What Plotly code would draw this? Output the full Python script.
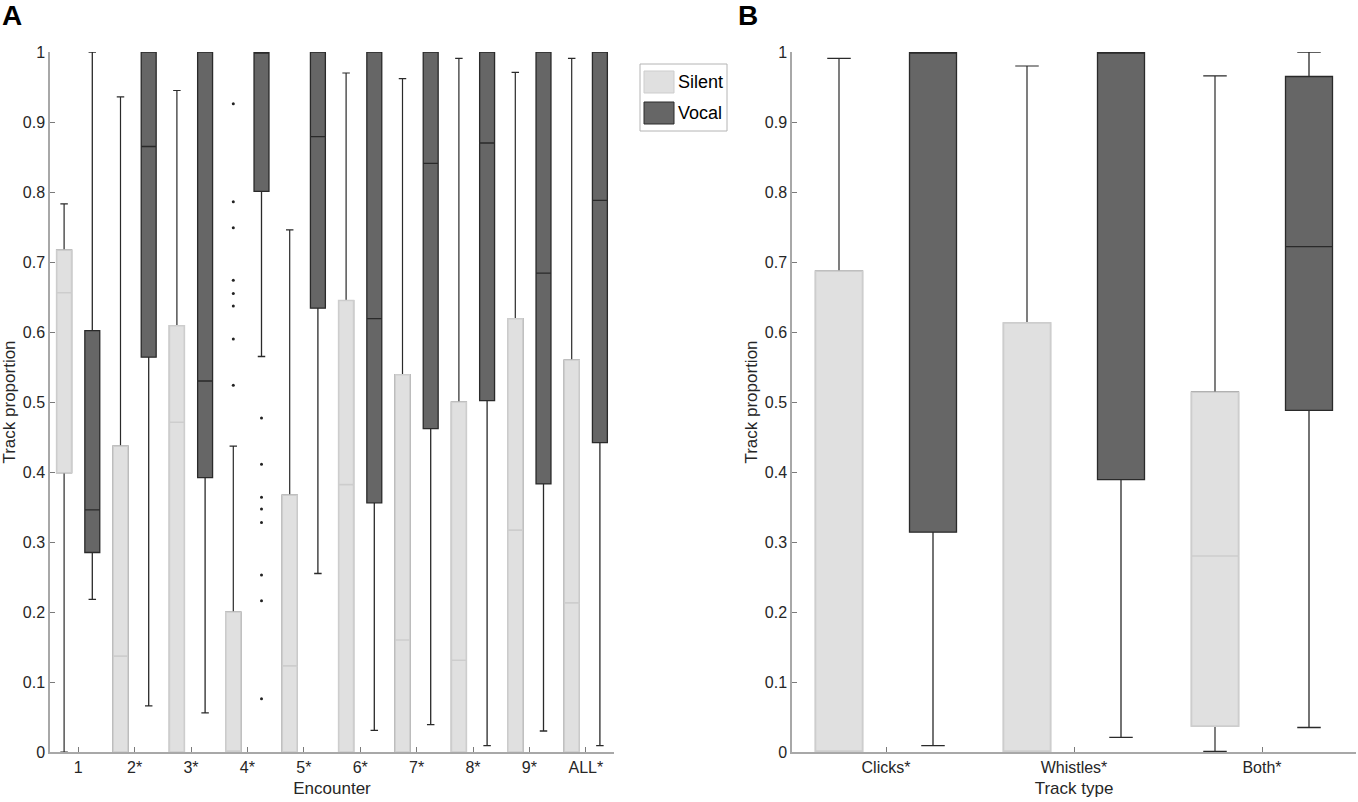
import numpy as np
import plotly.graph_objects as go

# ---------------- data ----------------
A_categories = ["1", "2*", "3*", "4*", "5*", "6*", "7*", "8*", "9*", "ALL*"]

A_silent_q1 = [0.399, 0, 0, 0, 0, 0, 0, 0, 0, 0]
A_silent_median = [0.656, 0.137, 0.471, 0.0, 0.123, 0.382, 0.160, 0.131, 0.317, 0.213]
A_silent_q3 = [0.717, 0.437, 0.609, 0.200, 0.367, 0.645, 0.539, 0.500, 0.619, 0.560]
A_silent_low = [0.0, 0, 0, 0, 0, 0, 0, 0, 0, 0]
A_silent_high = [0.783, 0.936, 0.945, 0.437, 0.746, 0.970, 0.962, 0.991, 0.971, 0.991]

A_vocal_q1 = [0.285, 0.564, 0.392, 0.801, 0.634, 0.356, 0.462, 0.502, 0.383, 0.442]
A_vocal_median = [0.346, 0.865, 0.530, 1.0, 0.879, 0.619, 0.841, 0.870, 0.684, 0.788]
A_vocal_q3 = [0.602, 1, 1, 1, 1, 1, 1, 1, 1, 1]
A_vocal_low = [0.218, 0.066, 0.056, 0.565, 0.255, 0.031, 0.039, 0.009, 0.030, 0.009]
A_vocal_high = [1.0, 1, 1, 1, 1, 1, 1, 1, 1, 1]

A_silent_outlier_cat = ["4*"] * 8
A_silent_outliers = [0.926, 0.786, 0.749, 0.674, 0.655, 0.637, 0.590, 0.524]
A_vocal_outlier_cat = ["4*"] * 8
A_vocal_outliers = [0.477, 0.411, 0.364, 0.347, 0.328, 0.253, 0.216, 0.076]

B_categories = ["Clicks*", "Whistles*", "Both*"]

B_silent_q1 = [0, 0, 0.037]
B_silent_median = [0, 0, 0.280]
B_silent_q3 = [0.687, 0.613, 0.514]
B_silent_low = [0, 0, 0.001]
B_silent_high = [0.991, 0.980, 0.966]

B_vocal_q1 = [0.314, 0.389, 0.488]
B_vocal_median = [1.0, 1.0, 0.722]
B_vocal_q3 = [1, 1, 0.965]
B_vocal_low = [0.009, 0.021, 0.035]
B_vocal_high = [1, 1, 1]

series_names = ["Silent", "Vocal"]

# ---------------- styles ----------------
W, H = 1358, 802
SILENT_FILL = "#e0e0e0"
SILENT_LINE = "#cdcdcd"
VOCAL_FILL = "#666666"
VOCAL_LINE = "#2a2a2a"
WHISKER = "#2a2a2a"
AXIS = "#a8a8a8"
TICK = "#7a7a7a"
TEXT = "#262626"
FONT = "Liberation Sans, Arial, Helvetica, sans-serif"


def px_x(p):
    return p / W


def px_y(p):
    return 1 - p / H


fig = go.Figure()


def add_panel(cats, s_q1, s_med, s_q3, s_lo, s_hi, v_q1, v_med, v_q3, v_lo, v_hi,
              xa, ya, bw, s_out_cat=None, s_out=None, v_out_cat=None, v_out=None):
    pos = {c: i + 1 for i, c in enumerate(cats)}
    base = np.arange(1, len(cats) + 1)
    xs = base - 0.25
    xv = base + 0.25
    # silent: whiskers (dark) first
    fig.add_trace(go.Box(
        x=xs, q1=s_q1, median=s_med, q3=s_q3, lowerfence=s_lo, upperfence=s_hi,
        width=bw, whiskerwidth=0.5, fillcolor=SILENT_FILL,
        line=dict(color=WHISKER, width=1.2), boxpoints=False,
        name=series_names[0], showlegend=False, xaxis=xa, yaxis=ya, hoverinfo="skip"))
    # silent: light box on top
    fig.add_trace(go.Box(
        x=xs, q1=s_q1, median=s_med, q3=s_q3, lowerfence=s_q1, upperfence=s_q3,
        width=bw, whiskerwidth=0, fillcolor=SILENT_FILL,
        line=dict(color=SILENT_LINE, width=1.6), boxpoints=False,
        name=series_names[0], showlegend=False, xaxis=xa, yaxis=ya, hoverinfo="skip"))
    # vocal
    fig.add_trace(go.Box(
        x=xv, q1=v_q1, median=v_med, q3=v_q3, lowerfence=v_lo, upperfence=v_hi,
        width=bw, whiskerwidth=0.5, fillcolor=VOCAL_FILL,
        line=dict(color=VOCAL_LINE, width=1.3), boxpoints=False,
        name=series_names[1], showlegend=False, xaxis=xa, yaxis=ya, hoverinfo="skip"))
    if s_out:
        fig.add_trace(go.Scatter(
            x=[pos[c] - 0.25 for c in s_out_cat], y=s_out, mode="markers",
            marker=dict(size=3, color="#222222"), showlegend=False,
            xaxis=xa, yaxis=ya, hoverinfo="skip"))
    if v_out:
        fig.add_trace(go.Scatter(
            x=[pos[c] + 0.25 for c in v_out_cat], y=v_out, mode="markers",
            marker=dict(size=3, color="#222222"), showlegend=False,
            xaxis=xa, yaxis=ya, hoverinfo="skip"))


add_panel(A_categories, A_silent_q1, A_silent_median, A_silent_q3, A_silent_low, A_silent_high,
          A_vocal_q1, A_vocal_median, A_vocal_q3, A_vocal_low, A_vocal_high,
          "x", "y", 0.265, A_silent_outlier_cat, A_silent_outliers,
          A_vocal_outlier_cat, A_vocal_outliers)
add_panel(B_categories, B_silent_q1, B_silent_median, B_silent_q3, B_silent_low, B_silent_high,
          B_vocal_q1, B_vocal_median, B_vocal_q3, B_vocal_low, B_vocal_high,
          "x2", "y2", 0.25)

ydom = [px_y(752), px_y(52)]

common_x = dict(ticks="inside", ticklen=5, tickcolor=TICK, showline=True, linecolor=AXIS,
                linewidth=1.5, showgrid=False, zeroline=False, automargin=False,
                tickfont=dict(family=FONT, size=16, color=TEXT))
common_y = dict(range=[0, 1], tick0=0, dtick=0.1, ticks="inside", ticklen=5, tickcolor=TICK,
                showline=True, linecolor=AXIS, linewidth=1.5, showgrid=False, zeroline=False,
                automargin=False, tickfont=dict(family=FONT, size=16, color=TEXT))
title_font = dict(family=FONT, size=17, color=TEXT)

fig.update_layout(
    width=W, height=H, margin=dict(l=0, r=0, t=0, b=0, autoexpand=False),
    paper_bgcolor="white", plot_bgcolor="white", boxmode="overlay",
    font=dict(family=FONT, color=TEXT),
    xaxis=dict(domain=[px_x(50), px_x(614)], range=[0.5, len(A_categories) + 0.5],
               tickmode="array", tickvals=list(range(1, len(A_categories) + 1)),
               ticktext=A_categories, anchor="y",
               title=dict(text="Encounter", font=title_font, standoff=7),
               **common_x),
    yaxis=dict(domain=ydom, anchor="x",
               title=dict(text="Track proportion", font=title_font, standoff=3),
               **common_y),
    xaxis2=dict(domain=[px_x(792), px_x(1356)], range=[0.5, len(B_categories) + 0.5],
                tickmode="array", tickvals=list(range(1, len(B_categories) + 1)),
                ticktext=B_categories, anchor="y2",
                title=dict(text="Track type", font=title_font, standoff=7),
                **common_x),
    yaxis2=dict(domain=ydom, anchor="x2",
                title=dict(text="Track proportion", font=title_font, standoff=3),
                **common_y),
)

# panel letters
fig.add_annotation(text="A", xref="paper", yref="paper", x=0, y=px_y(15),
                   xanchor="left", yanchor="middle", showarrow=False,
                   font=dict(family=FONT, size=28, color="black", weight=700))
fig.add_annotation(text="B", xref="paper", yref="paper", x=px_x(736), y=px_y(15),
                   xanchor="left", yanchor="middle", showarrow=False,
                   font=dict(family=FONT, size=28, color="black", weight=700))

# legend (drawn box)
fig.add_shape(type="rect", xref="paper", yref="paper",
              x0=px_x(640), x1=px_x(727), y0=px_y(131), y1=px_y(64),
              line=dict(color="#b4b4b4", width=1), fillcolor="white")
fig.add_shape(type="rect", xref="paper", yref="paper",
              x0=px_x(644), x1=px_x(674), y0=px_y(93), y1=px_y(71),
              line=dict(color=SILENT_LINE, width=1), fillcolor=SILENT_FILL)
fig.add_shape(type="rect", xref="paper", yref="paper",
              x0=px_x(644), x1=px_x(674), y0=px_y(124), y1=px_y(102),
              line=dict(color=VOCAL_LINE, width=1), fillcolor=VOCAL_FILL)
for name, yc in zip(series_names, [82, 113]):
    fig.add_annotation(text=name, xref="paper", yref="paper", x=px_x(676), y=px_y(yc),
                       xanchor="left", yanchor="middle", showarrow=False,
                       font=dict(family=FONT, size=18, color="black"))

fig.write_html("out.html", config={"displayModeBar": False},
               post_script="document.body.style.margin='0';")
